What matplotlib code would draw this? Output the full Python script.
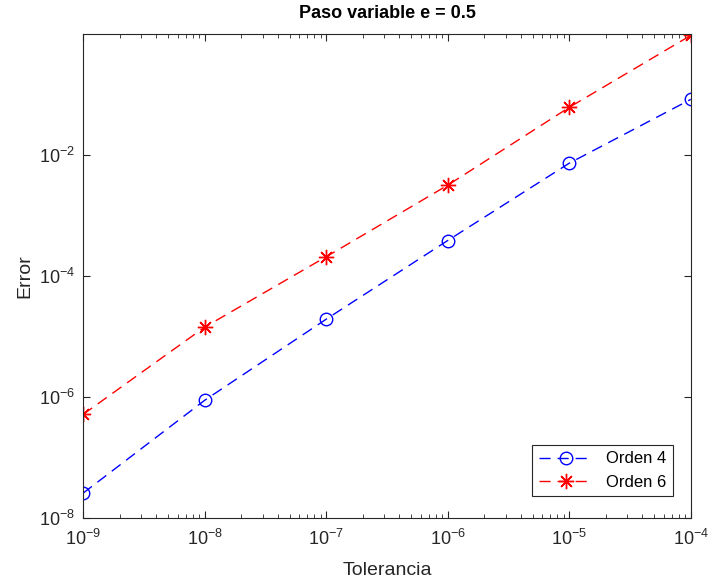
import math
import matplotlib
matplotlib.use('Agg')
import matplotlib.pyplot as plt
from matplotlib.ticker import FixedLocator, FuncFormatter, NullLocator

plt.rcParams['font.family'] = ['Liberation Sans', 'DejaVu Sans']
plt.rcParams['mathtext.fontset'] = 'custom'
plt.rcParams['mathtext.rm'] = 'Liberation Sans'
plt.rcParams['mathtext.it'] = 'Liberation Sans'
plt.rcParams['axes.unicode_minus'] = False

# Datos
tolerancia = [1e-9, 1e-8, 1e-7, 1e-6, 1e-5, 1e-4]
error_orden4 = [2.6e-8, 8.9e-7, 1.95e-5, 3.9e-4, 7.4e-3, 8.4e-2]
error_orden6 = [5.2e-7, 1.44e-5, 2.1e-4, 3.2e-3, 6.2e-2, 0.96]

x_ticks = [1e-9, 1e-8, 1e-7, 1e-6, 1e-5, 1e-4]
y_ticks = [1e-8, 1e-6, 1e-4, 1e-2]


def pot10(v, pos):
    return r'$\mathregular{10^{%d}}$' % round(math.log10(v))


fig = plt.figure(figsize=(7.1, 5.81), dpi=100)
ax = fig.add_axes([0.117, 0.108, 0.856, 0.833])

ax.loglog(tolerancia, error_orden4, 'o--', color='#0000ff', mfc='none',
          ms=9, lw=1.0, mew=1.0, dashes=(8, 5), label='Orden 4')
ax.loglog(tolerancia, error_orden6, '--', marker=(8, 2, 0), color='#ff0000',
          ms=11, lw=1.0, mew=1.0, dashes=(8, 5), label='Orden 6')

ax.set_xlim(1e-9, 1e-4)
ax.set_ylim(1e-8, 1e0)
ax.xaxis.set_major_locator(FixedLocator(x_ticks))
ax.yaxis.set_major_locator(FixedLocator(y_ticks))
ax.yaxis.set_minor_locator(NullLocator())
ax.xaxis.set_major_formatter(FuncFormatter(pot10))
ax.yaxis.set_major_formatter(FuncFormatter(pot10))

ax.tick_params(which='both', direction='in', top=True, right=True,
               labelsize=13, color='#262626', labelcolor='#262626')
ax.tick_params(axis='x', which='major', pad=8)
ax.tick_params(axis='y', which='major', pad=6)
ax.tick_params(which='major', length=5)
ax.tick_params(which='minor', length=3)
for s in ax.spines.values():
    s.set_color('#262626')
    s.set_linewidth(0.8)

ax.set_xlabel('Tolerancia', fontsize=14, color='#262626', labelpad=9)
ax.set_ylabel('Error', fontsize=14, color='#262626', labelpad=4)
ax.set_title('Paso variable e = 0.5', fontsize=13, fontweight='bold', pad=12)

leg = ax.legend(loc='lower right', bbox_to_anchor=(0.97, 0.045),
                borderaxespad=0, fontsize=12, fancybox=False,
                edgecolor='#262626', framealpha=1, handlelength=3.2)
leg.get_frame().set_linewidth(0.8)

fig.savefig('out.png', dpi=100)
